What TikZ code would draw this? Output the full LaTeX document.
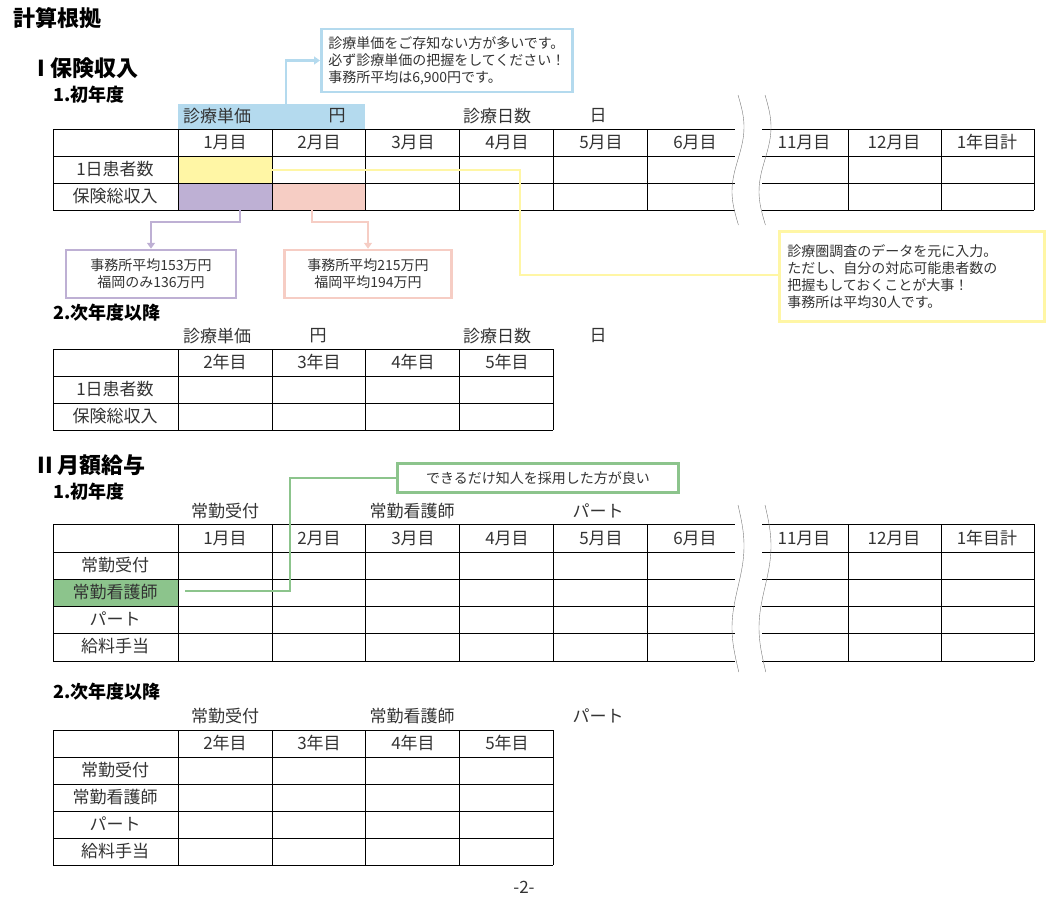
\documentclass[tikz,border=0pt]{standalone}
\usepackage{fontspec}
\setmainfont{Noto Sans CJK JP}
\usetikzlibrary{arrows.meta}

\definecolor{cBlue}{RGB}{180,218,238}
\definecolor{cYellow}{RGB}{255,246,165}
\definecolor{cPurple}{RGB}{190,176,212}
\definecolor{cPink}{RGB}{246,205,196}
\definecolor{cGreen}{RGB}{140,196,140}
\definecolor{cWave}{RGB}{120,120,120}

\tikzset{
  cell/.style={font=\fontsize{17}{17}\selectfont, text=black!80},
  memo/.style={draw=#1, line width=2.5pt, font=\fontsize{14}{17}\selectfont, text=black!80},
  lead/.style={draw=#1, line width=2.5pt},
  head/.style={font=\bfseries\fontsize{#1}{#1}\selectfont, anchor=west},
}

\begin{document}
\begin{tikzpicture}[x=1pt,y=-1pt]
\useasboundingbox (0,0) rectangle (1048,907);

\node[head=22] at (10,18) {計算根拠};
\node[head=22] at (34,68) {I 保険収入};
\node[head=18] at (50,95) {1.初年度};

% fills
\fill[cBlue] (178,104) rectangle (365,129);
\fill[cYellow] (178,156) rectangle (272,183);
\fill[cPurple] (178,183) rectangle (272,210);
\fill[cPink] (272,183) rectangle (365,210);

\node[cell] at (217,116) {診療単価};
\node[cell] at (337,116) {円};
\node[cell] at (497,116) {診療日数};
\node[cell] at (598,116) {日};

% table 1
\foreach \y in {129,156,183,210} {
  \draw (53,\y)--(735,\y);
  \draw (762,\y)--(1034,\y);
}
\foreach \x in {53,178,272,365,459,553,647,848,941,1034}
  \draw (\x,129)--(\x,210);
\foreach \t [count=\i] in {1月目,2月目,3月目,4月目,5月目,6月目}
  \node[cell] at (131+94*\i,142) {\t};
\node[cell] at (804,142) {11月目};
\node[cell] at (894,142) {12月目};
\node[cell] at (987,142) {1年目計};
\node[cell] at (115,169) {1日患者数};
\node[cell] at (115,196) {保険総収入};
\foreach \dx in {0,27}
  \draw[cWave] plot[smooth,domain=95:225,samples=30] ({738+\dx+6*sin((\x-95)*2.8)},\x);

% notes
\node[memo=cBlue, align=left, anchor=north west, inner sep=7pt] (unit) at (320,28)
  {診療単価をご存知ない方が多いです。\\必ず診療単価の把握をしてください！\\事務所平均は6,900円です。};
\coordinate (unitfoot) at (286,104);
\draw[lead=cBlue, -{Triangle[length=6pt,width=8pt]}] (unitfoot) |- (unit.west);

\node[memo=cPurple, align=center, minimum width=170pt, minimum height=48pt] (avg1) at (151,274)
  {事務所平均153万円\\福岡のみ136万円};
\node[memo=cPink, align=center, minimum width=167pt, minimum height=48pt] (avg2) at (368,274)
  {事務所平均215万円\\福岡平均194万円};
\coordinate (p1) at (240,210);
\coordinate (p2) at (312,210);
\draw[lead=cPurple, -{Triangle[length=6pt,width=8pt]}] (p1) -- (240,222) -| (avg1.north);
\draw[lead=cPink, -{Triangle[length=6pt,width=8pt]}] (p2) -- (312,222) -| (avg2.north);

\node[memo=cYellow, align=left, anchor=north west, inner sep=8pt, text width=249pt, minimum height=90pt] (pat) at (778,230)
  {診療圏調査のデータを元に入力。\\ただし、自分の対応可能患者数の\\把握もしておくことが大事！\\事務所は平均30人です。};
\coordinate (y1) at (272,170);
\coordinate (y2) at (778,275);
\draw[lead=cYellow] (y1) -- (520,170) |- (y2);

% table 2
\node[head=18] at (50,313) {2.次年度以降};
\node[cell] at (217,336) {診療単価};
\node[cell] at (318,336) {円};
\node[cell] at (497,336) {診療日数};
\node[cell] at (598,336) {日};
\foreach \y in {349,376,403,430}
  \draw (53,\y)--(553,\y);
\foreach \x in {53,178,272,365,459,553}
  \draw (\x,349)--(\x,430);
\foreach \t [count=\i] in {2年目,3年目,4年目,5年目}
  \node[cell] at (131+94*\i,362) {\t};
\node[cell] at (115,389) {1日患者数};
\node[cell] at (115,416) {保険総収入};

% salary
\node[head=22] at (34,465) {II 月額給与};
\node[head=18] at (50,492) {1.初年度};
\node[cell] at (225,511) {常勤受付};
\node[cell] at (412,511) {常勤看護師};
\node[cell] at (598,511) {パート};
\fill[cGreen] (53,579) rectangle (178,606);
\foreach \y in {524,552,579,606,633,661} {
  \draw (53,\y)--(735,\y);
  \draw (762,\y)--(1034,\y);
}
\foreach \x in {53,178,272,365,459,553,647,848,941,1034}
  \draw (\x,524)--(\x,661);
\foreach \t [count=\i] in {1月目,2月目,3月目,4月目,5月目,6月目}
  \node[cell] at (131+94*\i,538) {\t};
\node[cell] at (804,538) {11月目};
\node[cell] at (894,538) {12月目};
\node[cell] at (987,538) {1年目計};
\foreach \t [count=\i] in {常勤受付,常勤看護師,パート,給料手当}
  \node[cell] at (115,538+27*\i) {\t};
\foreach \dx in {0,27}
  \draw[cWave] plot[smooth,domain=505:672,samples=36] ({738+\dx+6*sin((\x-505)*2.2)},\x);

\node[memo=cGreen, minimum width=281pt, minimum height=29pt] (friend) at (538,478)
  {できるだけ知人を採用した方が良い};
\coordinate (g1) at (185,591);
\draw[lead=cGreen] (g1) -- (290,591) |- (friend.west);

% table 4
\node[head=18] at (50,692) {2.次年度以降};
\node[cell] at (225,716) {常勤受付};
\node[cell] at (412,716) {常勤看護師};
\node[cell] at (598,716) {パート};
\foreach \y in {730,757,784,811,838,865}
  \draw (53,\y)--(553,\y);
\foreach \x in {53,178,272,365,459,553}
  \draw (\x,730)--(\x,865);
\foreach \t [count=\i] in {2年目,3年目,4年目,5年目}
  \node[cell] at (131+94*\i,743) {\t};
\foreach \t [count=\i] in {常勤受付,常勤看護師,パート,給料手当}
  \node[cell] at (115,743+27*\i) {\t};

\node[cell] at (524,887) {-2-};
\end{tikzpicture}
\end{document}
